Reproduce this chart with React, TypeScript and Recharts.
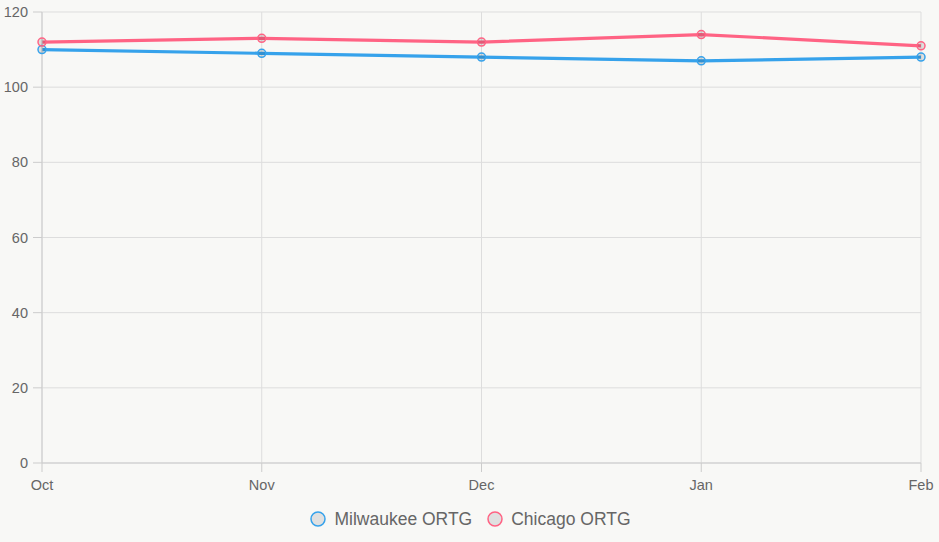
import React from "react";
import { CartesianGrid, Legend, Line, LineChart, XAxis, YAxis } from "recharts";

const months = ["Oct", "Nov", "Dec", "Jan", "Feb"];
const milwaukeeOrtg = [110, 109, 108, 107, 108];
const chicagoOrtg = [112, 113, 112, 114, 111];
const yTicks = [0, 20, 40, 60, 80, 100, 120];

const series = [
  { key: "milwaukee", name: "Milwaukee ORTG", color: "#36a2eb" },
  { key: "chicago", name: "Chicago ORTG", color: "#ff6384" },
];

const data = months.map((m, i) => ({
  month: m,
  milwaukee: milwaukeeOrtg[i],
  chicago: chicagoOrtg[i],
}));

const FONT = '"Liberation Sans", Arial, Helvetica, sans-serif';

const LegendContent = () => (
  <div
    style={{
      display: "flex",
      justifyContent: "center",
      alignItems: "center",
      height: 49,
      paddingTop: 3,
      paddingLeft: 18,
      boxSizing: "border-box",
      fontFamily: FONT,
      fontSize: 17.5,
      color: "#666",
    }}
  >
    {series.map((s) => (
      <div key={s.key} style={{ display: "flex", alignItems: "center", margin: "0 7px" }}>
        <svg width={18} height={18} style={{ marginRight: 7 }}>
          <circle cx={9} cy={9} r={7} fill="#e0e0e0" stroke={s.color} strokeWidth={1.5} />
        </svg>
        <span>{s.name}</span>
      </div>
    ))}
  </div>
);

export default function App() {
  return (
    <div
      style={{
        position: "absolute",
        left: 0,
        top: 0,
        width: 939,
        height: 542,
        background: "#f8f8f6",
      }}
    >
      <LineChart
        width={939}
        height={542}
        data={data}
        margin={{ top: 12, right: 18, left: 1, bottom: 0 }}
      >
        <CartesianGrid stroke="#dddddd" />
        <XAxis
          dataKey="month"
          interval={0}
          height={30}
          tickSize={9}
          tickMargin={8}
          stroke="#cccccc"
          tick={{ fill: "#666", fontSize: 14.5, fontFamily: FONT }}
        />
        <YAxis
          domain={[0, 120]}
          ticks={yTicks}
          width={41}
          tickSize={9}
          tickMargin={5}
          stroke="#cccccc"
          tick={{ fill: "#666", fontSize: 14.5, fontFamily: FONT }}
        />
        <Legend verticalAlign="bottom" height={49} content={<LegendContent />} />
        {series.map((s) => (
          <Line
            key={s.key}
            type="linear"
            dataKey={s.key}
            name={s.name}
            stroke={s.color}
            strokeWidth={3.2}
            dot={{ r: 4, fill: "rgba(0,0,0,0.1)", stroke: s.color, strokeWidth: 1.5 }}
            isAnimationActive={false}
          />
        ))}
      </LineChart>
    </div>
  );
}
